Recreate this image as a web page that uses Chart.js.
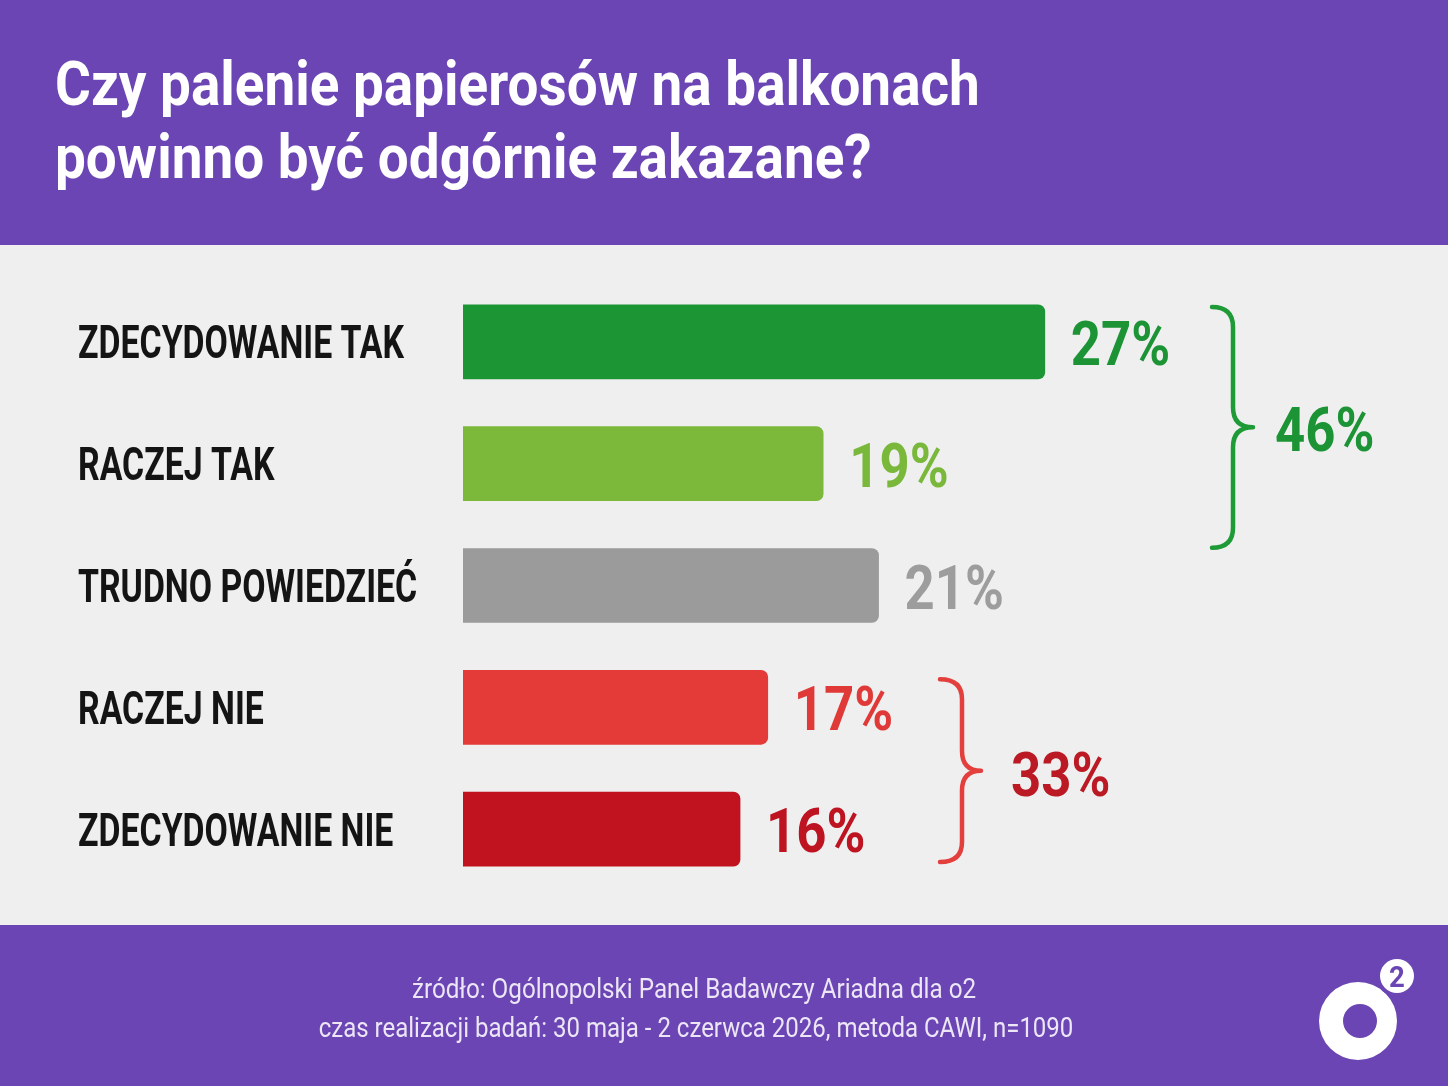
<!DOCTYPE html>
<html lang="pl">
<head>
<meta charset="utf-8">
<title>Czy palenie papierosów na balkonach powinno być odgórnie zakazane?</title>
<script src="https://cdn.jsdelivr.net/npm/chart.js@4/dist/chart.umd.min.js"></script>
<style>
  html, body { margin: 0; padding: 0; background: #efefef; }
  #wrap { position: relative; width: 1448px; height: 1086px; }
  canvas { display: block; }
</style>
</head>
<body>
<div id="wrap"><canvas id="c" width="1448" height="1086"></canvas></div>
<script>
// ---- data ----
const titleLines = ['Czy palenie papierosów na balkonach', 'powinno być odgórnie zakazane?'];
const categories = ['ZDECYDOWANIE TAK', 'RACZEJ TAK', 'TRUDNO POWIEDZIEĆ', 'RACZEJ NIE', 'ZDECYDOWANIE NIE'];
const values = [27, 19, 21, 17, 16];
const groupLabels = ['46%', '33%'];
const groupTotals = [46, 33];
const footerLines = ['źródło: Ogólnopolski Panel Badawczy Ariadna dla o2',
                     'czas realizacji badań: 30 maja - 2 czerwca 2026, metoda CAWI, n=1090'];

// ---- styles ----
const PURPLE = '#6a45b3';
const barColors = ['#1c9634', '#7cb93b', '#9b9b9b', '#e43a38', '#c0121f'];
const labelColors = ['#1c9334', '#79b83a', '#9d9d9d', '#e03a38', '#be1421'];
const groupColors = ['#1c9334', '#bb1a24'];
const braceColors = ['#1e9a37', '#e3403d'];

function condText(ctx, text, x, y, font, color, align, sx) {
  ctx.save();
  ctx.font = font;
  ctx.fillStyle = color;
  ctx.textBaseline = 'alphabetic';
  const w = ctx.measureText(text).width * sx;
  let left = x;
  if (align === 'center') left = x - w / 2;
  else if (align === 'right') left = x - w;
  ctx.translate(left, y);
  ctx.scale(sx, 1);
  ctx.textAlign = 'left';
  ctx.fillText(text, 0, 0);
  ctx.restore();
  return w;
}

function brace(ctx, x0, x1, x2, top, bottom, color) {
  const mid = (top + bottom) / 2;
  const r = 20;
  ctx.save();
  ctx.strokeStyle = color;
  ctx.lineWidth = 4.5;
  ctx.lineCap = 'round';
  ctx.lineJoin = 'round';
  ctx.beginPath();
  ctx.moveTo(x0, top);
  ctx.quadraticCurveTo(x1, top, x1, top + r);
  ctx.lineTo(x1, mid - r);
  ctx.quadraticCurveTo(x1, mid, x2, mid);
  ctx.quadraticCurveTo(x1, mid, x1, mid + r);
  ctx.lineTo(x1, bottom - r);
  ctx.quadraticCurveTo(x1, bottom, x0, bottom);
  ctx.stroke();
  ctx.restore();
  return mid;
}

const decor = {
  id: 'decor',
  beforeDraw(chart) {
    const ctx = chart.ctx;
    ctx.save();
    ctx.fillStyle = '#efefef';
    ctx.fillRect(0, 0, 1448, 1086);
    ctx.fillStyle = PURPLE;
    ctx.fillRect(0, 0, 1448, 245);
    ctx.fillRect(0, 925, 1448, 161);
    ctx.restore();
    // title
    condText(ctx, titleLines[0], 55, 105, 'bold 62px Roboto', '#ffffff', 'left', 0.885);
    condText(ctx, titleLines[1], 55, 178, 'bold 62px Roboto', '#ffffff', 'left', 0.885);
    // footer
    condText(ctx, footerLines[0], 694, 998, '28px Roboto', '#ece6f6', 'center', 0.865);
    condText(ctx, footerLines[1], 696, 1037, '28px Roboto', '#ece6f6', 'center', 0.857);
    // logo
    ctx.save();
    ctx.fillStyle = '#ffffff';
    ctx.beginPath();
    ctx.arc(1358, 1021, 39, 0, Math.PI * 2);
    ctx.arc(1360, 1021, 17, 0, Math.PI * 2, true);
    ctx.fill('evenodd');
    ctx.fillStyle = PURPLE;
    ctx.beginPath(); ctx.arc(1397, 976, 21, 0, Math.PI * 2); ctx.fill();
    ctx.fillStyle = '#ffffff';
    ctx.beginPath(); ctx.arc(1397, 976, 17, 0, Math.PI * 2); ctx.fill();
    ctx.restore();
    condText(ctx, '2', 1397, 987, 'bold 29px Roboto', PURPLE, 'center', 0.95);
  },
  afterDatasetsDraw(chart) {
    const ctx = chart.ctx;
    const ys = chart.scales.y;
    const meta = chart.getDatasetMeta(0);
    categories.forEach((lab, i) => {
      const yc = ys.getPixelForValue(i);
      condText(ctx, lab, 78, yc + 16.5, 'bold 46px Roboto', '#141414', 'left', 0.735);
      const bx = meta.data[i].x;
      condText(ctx, values[i] + '%', bx + 26, yc + 23, 'bold 62px Roboto', labelColors[i], 'left', 0.85);
    });
    // green brace (first two)
    const g0 = ys.getPixelForValue(0), g1 = ys.getPixelForValue(1);
    const gm = brace(ctx, 1212, 1233, 1253, g0 - 35, g1 + 84, braceColors[0]);
    condText(ctx, groupLabels[0], 1275, gm + 24, 'bold 62px Roboto', groupColors[0], 'left', 0.85);
    const r0 = ys.getPixelForValue(3), r1 = ys.getPixelForValue(4);
    const rm = brace(ctx, 940, 962, 981, r0 - 28, r1 + 33, braceColors[1]);
    condText(ctx, groupLabels[1], 1011, rm + 25, 'bold 62px Roboto', groupColors[1], 'left', 0.85);
  }
};

new Chart(document.getElementById('c'), {
  type: 'bar',
  data: {
    labels: categories,
    datasets: [{
      data: values,
      backgroundColor: barColors,
      borderRadius: 7,
      borderSkipped: false,
      barThickness: 74
    }]
  },
  options: {
    indexAxis: 'y',
    responsive: false,
    animation: false,
    events: [],
    layout: { padding: { top: 281, bottom: 196, left: 463, right: 43 } },
    plugins: { legend: { display: false }, tooltip: { enabled: false }, title: { display: false } },
    scales: {
      x: { display: false, min: 6, max: 40 },
      y: { display: false }
    }
  },
  plugins: [decor]
});
</script>
</body>
</html>
